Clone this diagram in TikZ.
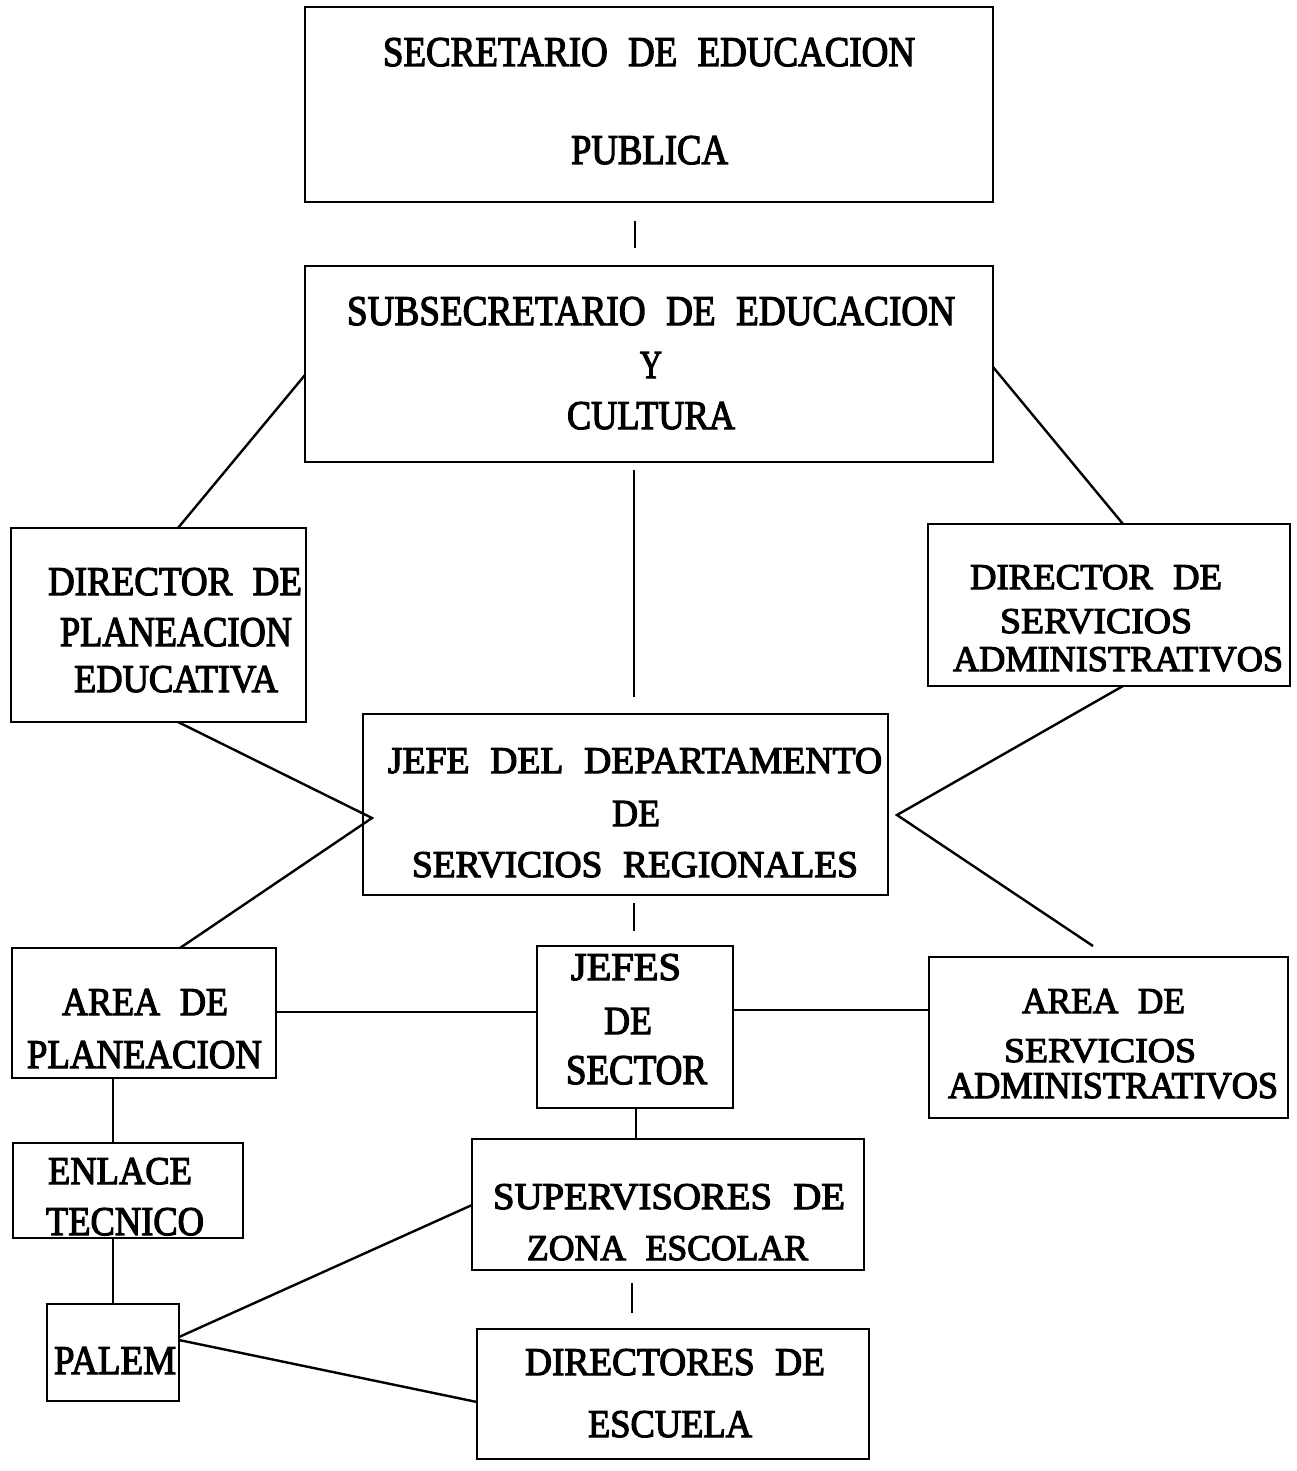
\documentclass[tikz,border=0pt]{standalone}
\usepackage{fontspec}
\setmainfont{Liberation Serif}
\tikzset{
  box/.style={draw=black, line width=2.6pt, inner sep=0pt, outer sep=0pt, anchor=north west},
  conn/.style={draw=black, line width=2.4pt},
  txt/.style={anchor=base west, inner sep=0pt, outer sep=0pt}
}
\newcommand\heavytext[1]{\special{pdf:code q 2 Tr 0.3 w 0 G}#1\special{pdf:code Q}}
\newcommand\tline[6]{\pgfmathsetmacro\tlw{#3-#2}\node[txt] (#1) at (#2,#4) {\resizebox{\tlw pt}{#5pt}{\spaceskip=0.55em\relax\heavytext{#6}}};}
\newcommand\boxat[5]{\pgfmathsetmacro\bxw{#4-#2}\pgfmathsetmacro\bxh{#5-#3}\node[box, minimum width=\bxw pt, minimum height=\bxh pt] (#1) at (#2,#3) {};}
\begin{document}
\begin{tikzpicture}[x=1pt,y=-1pt]
\useasboundingbox[fill=white] (0,0) rectangle (1296,1471);
% boxes
\boxat{b1}{305}{7}{993}{202}
\boxat{b2}{305}{266}{993}{462}
\boxat{b3}{11}{528}{306}{722}
\boxat{b4}{928}{524}{1290}{686}
\boxat{b5}{363}{714}{888}{895}
\boxat{b6}{12}{948}{276}{1078}
\boxat{b7}{537}{946}{733}{1108}
\boxat{b8}{929}{957}{1288}{1118}
\boxat{b9}{13}{1143}{243}{1238}
\boxat{b10}{472}{1139}{864}{1270}
\boxat{b11}{47}{1304}{179}{1401}
\boxat{b12}{477}{1329}{869}{1459}
% texts
\tline{t1a}{383}{915}{66}{28}{SECRETARIO DE EDUCACION}
\tline{t1b}{571}{728}{164}{28}{PUBLICA}
\tline{t2a}{347}{955}{325}{28}{SUBSECRETARIO DE EDUCACION}
\tline{t2b}{640}{662}{378}{26}{Y}
\tline{t2c}{567}{735}{429}{27}{CULTURA}
\tline{t3a}{48}{302}{595}{27}{DIRECTOR DE}
\tline{t3b}{60}{292}{646}{28}{PLANEACION}
\tline{t3c}{74}{278}{692}{26}{EDUCATIVA}
\tline{t4a}{970}{1222}{589}{24}{DIRECTOR DE}
\tline{t4b}{1000}{1192}{633}{24}{SERVICIOS}
\tline{t4c}{953}{1283}{671}{24}{ADMINISTRATIVOS}
\tline{t5a}{388}{882}{773}{25}{JEFE DEL DEPARTAMENTO}
\tline{t5b}{612}{660}{826}{25}{DE}
\tline{t5c}{412}{858}{877}{25}{SERVICIOS REGIONALES}
\tline{t6a}{62}{228}{1015}{26}{AREA DE}
\tline{t6b}{27}{262}{1068}{27}{PLANEACION}
\tline{t7a}{571}{681}{980}{26}{JEFES}
\tline{t7b}{604}{652}{1034}{26}{DE}
\tline{t7c}{566}{707}{1084}{28}{SECTOR}
\tline{t8a}{1022}{1185}{1013}{24}{AREA DE}
\tline{t8b}{1004}{1196}{1062}{23}{SERVICIOS}
\tline{t8c}{948}{1278}{1098}{25}{ADMINISTRATIVOS}
\tline{t9a}{48}{192}{1184}{26}{ENLACE}
\tline{t9b}{46}{204}{1235}{27}{TECNICO}
\tline{t10a}{493}{845}{1209}{25}{SUPERVISORES DE}
\tline{t10b}{527}{808}{1260}{24}{ZONA ESCOLAR}
\tline{t11a}{54}{176}{1374}{27}{PALEM}
\tline{t12a}{525}{825}{1375}{26}{DIRECTORES DE}
\tline{t12b}{588}{752}{1437}{26}{ESCUELA}
% coordinates for connectors
\coordinate (c1a) at (635,221); \coordinate (c1b) at (635,248);
\coordinate (c2a) at (305,375); \coordinate (c2b) at (178,528);
\coordinate (c3a) at (993,367); \coordinate (c3b) at (1123,524);
\coordinate (c4a) at (634,470); \coordinate (c4b) at (634,697);
\coordinate (c5a) at (178,722); \coordinate (v5) at (372,818); \coordinate (c5b) at (180,948);
\coordinate (c6a) at (1123,686); \coordinate (v6) at (897,815); \coordinate (c6b) at (1093,946);
\coordinate (c7a) at (634,903); \coordinate (c7b) at (634,931);
\coordinate (c8a) at (276,1012); \coordinate (c8b) at (537,1012);
\coordinate (c9a) at (733,1010); \coordinate (c9b) at (929,1010);
\coordinate (c10a) at (636,1108); \coordinate (c10b) at (636,1139);
\coordinate (c11a) at (113,1078); \coordinate (c11b) at (113,1143);
\coordinate (c12a) at (113,1238); \coordinate (c12b) at (113,1304);
\coordinate (c13a) at (179,1337); \coordinate (c13b) at (472,1205);
\coordinate (c14a) at (179,1340); \coordinate (c14b) at (477,1402);
\coordinate (c15a) at (632,1283); \coordinate (c15b) at (632,1313);
% connectors
\draw[conn] (c1a) -- (c1b);
\draw[conn] (c2a) -- (c2b);
\draw[conn] (c3a) -- (c3b);
\draw[conn] (c4a) -- (c4b);
\draw[conn] (c5a) -- (v5) -- (c5b);
\draw[conn] (c6a) -- (v6) -- (c6b);
\draw[conn] (c7a) -- (c7b);
\draw[conn] (c8a) -- (c8b);
\draw[conn] (c9a) -- (c9b);
\draw[conn] (c10a) -- (c10b);
\draw[conn] (c11a) -- (c11b);
\draw[conn] (c12a) -- (c12b);
\draw[conn] (c13a) -- (c13b);
\draw[conn] (c14a) -- (c14b);
\draw[conn] (c15a) -- (c15b);
\end{tikzpicture}
\end{document}
